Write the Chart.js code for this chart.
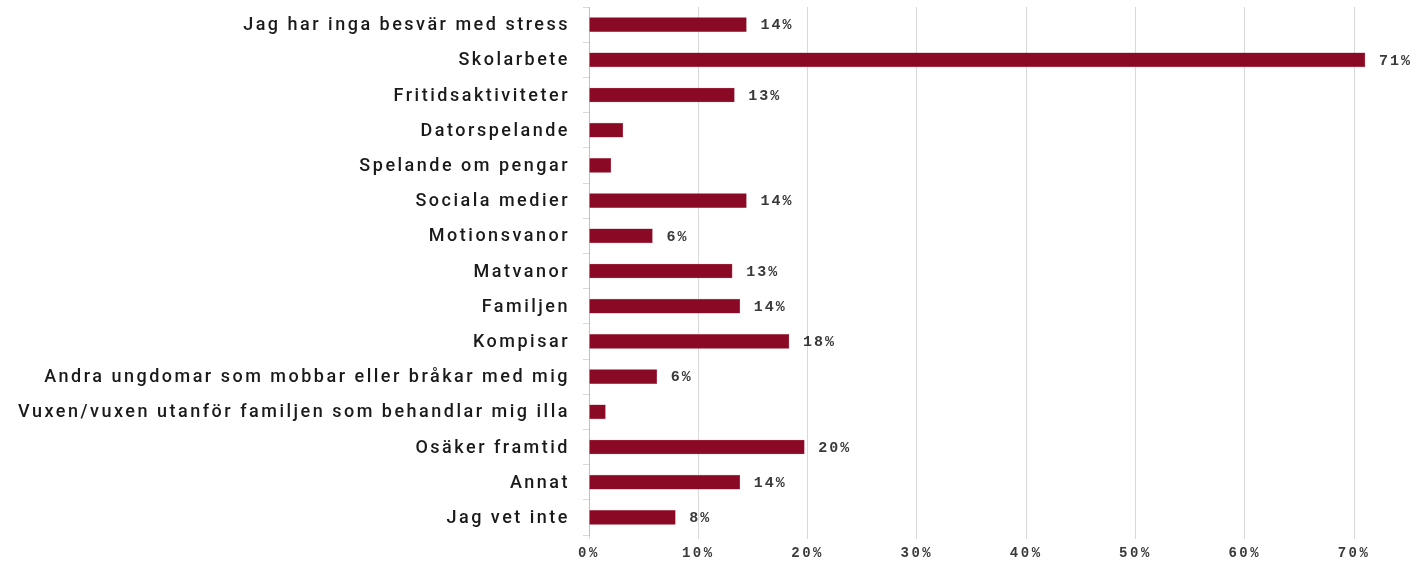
<!DOCTYPE html>
<html>
<head>
<meta charset="utf-8">
<script src="https://cdn.jsdelivr.net/npm/chart.js@4.4.0/dist/chart.umd.min.js"></script>
<style>
  html, body { margin: 0; padding: 0; background: #fff; }
  #wrap { width: 1418px; height: 563px; }
</style>
</head>
<body>
<div id="wrap"><canvas id="stress-chart" width="1418" height="563"></canvas></div>
<script>
"use strict";

const categories = [
    'Jag har inga besvär med stress',
    'Skolarbete',
    'Fritidsaktiviteter',
    'Datorspelande',
    'Spelande om pengar',
    'Sociala medier',
    'Motionsvanor',
    'Matvanor',
    'Familjen',
    'Kompisar',
    'Andra ungdomar som mobbar eller bråkar med mig',
    'Vuxen/vuxen utanför familjen som behandlar mig illa',
    'Osäker framtid',
    'Annat',
    'Jag vet inte'
];

const shares = [0.144, 0.710, 0.133, 0.031, 0.020, 0.144, 0.058, 0.131, 0.138, 0.183, 0.062, 0.015, 0.197, 0.138, 0.079];

// labels printed next to the bars (small bars have none)
const valueLabels = ['14%', '71%', '13%', '', '', '14%', '6%', '13%', '14%', '18%', '6%', '', '20%', '14%', '8%'];

const tickValues = [0, 0.1, 0.2, 0.3, 0.4, 0.5, 0.6, 0.7];
const tickLabels = ['0%', '10%', '20%', '30%', '40%', '50%', '60%', '70%'];

const barColor = '#8a0a25';
const textColor = '#1a1a1a';

const ctx = document.getElementById('stress-chart').getContext('2d');

// canvas resize wipes the context state, so spacing is set right before drawing
const spacing = {
    id: 'spacing',
    beforeDraw(chart) {
        chart.ctx.letterSpacing = '2.5px';
    }
};

const barLabels = {
    id: 'barLabels',
    afterDatasetsDraw(chart) {
        const c = chart.ctx;
        const meta = chart.getDatasetMeta(0);
        c.save();
        c.letterSpacing = '2px';
        c.font = 'bold 15px "Liberation Mono"';
        c.fillStyle = '#3a3a3a';
        c.textAlign = 'left';
        c.textBaseline = 'middle';
        for (let i = 0; i < meta.data.length; i++) {
            if (!valueLabels[i]) continue;
            const bar = meta.data[i];
            c.fillText(valueLabels[i], bar.x + 14, bar.y + 1);
        }
        c.restore();
    }
};

new Chart(ctx, {
    type: 'bar',
    data: {
        labels: categories,
        datasets: [{
            data: shares,
            backgroundColor: barColor,
            borderColor: '#b4566a',
            borderWidth: 0.6,
            barThickness: 14
        }]
    },
    options: {
        indexAxis: 'y',
        responsive: false,
        animation: false,
        layout: { padding: { top: 7, right: 0, bottom: 0, left: 0 } },
        plugins: {
            legend: { display: false },
            tooltip: { enabled: false }
        },
        scales: {
            x: {
                min: 0,
                max: 0.7585,
                afterBuildTicks(scale) {
                    scale.ticks = tickValues.map(v => ({ value: v }));
                },
                afterFit(scale) {
                    scale.height = 28;
                    scale.paddingLeft = 0;
                    scale.paddingRight = 0;
                },
                ticks: {
                    autoSkip: false,
                    maxRotation: 0,
                    padding: 6,
                    color: '#3a3a3a',
                    font: { family: 'Liberation Mono', size: 14, weight: 'bold' },
                    callback: (v, i) => tickLabels[i]
                },
                grid: {
                    color: '#d9d9d9',
                    lineWidth: 1,
                    tickLength: 4
                },
                border: { display: false }
            },
            y: {
                afterFit(scale) {
                    scale.width = 589;
                    scale.paddingTop = 0;
                    scale.paddingBottom = 0;
                },
                ticks: {
                    autoSkip: false,
                    padding: 13,
                    labelOffset: 1,
                    color: textColor,
                    font: { family: 'Roboto', size: 18, weight: '500' }
                },
                grid: {
                    drawOnChartArea: false,
                    offset: true,
                    tickLength: 6,
                    color: '#d9d9d9'
                },
                border: { color: '#bfbfbf' }
            }
        }
    },
    plugins: [spacing, barLabels]
});
</script>
</body>
</html>
